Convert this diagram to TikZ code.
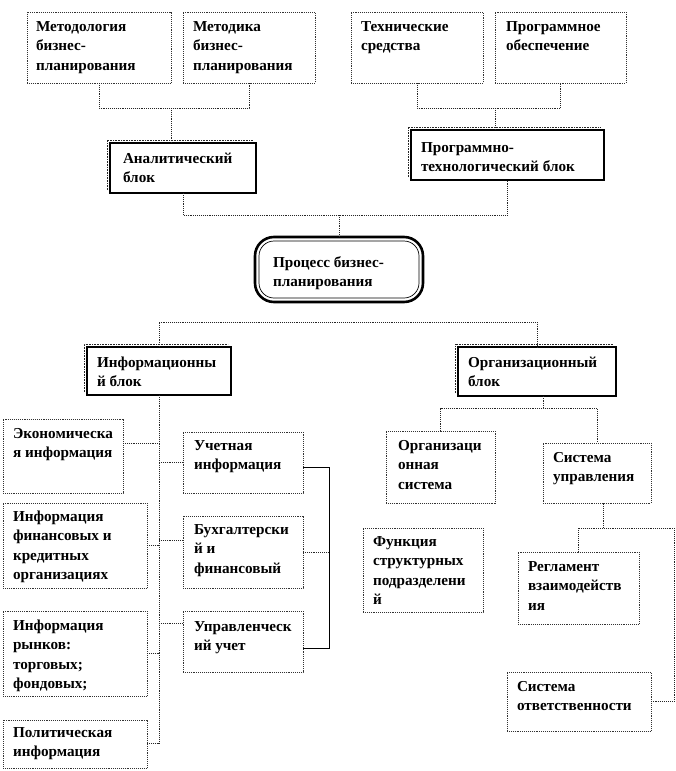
\documentclass[tikz,border=0pt]{standalone}
\usepackage{fontspec}
\setmainfont{Liberation Serif}
\usetikzlibrary{calc}
\tikzset{
  leaf/.style={draw=black!80, densely dotted, line width=0.9pt, inner sep=0pt, outer sep=0pt},
  mainb/.style={draw=black, line width=2pt, inner sep=0pt, outer sep=0pt},
  procb/.style={draw=black, line width=2.6pt, rounded corners=19pt, inner sep=0pt, outer sep=0pt},
  txt/.style={inner sep=0pt, outer sep=0pt, align=left, anchor=north west,
    font=\bfseries\fontsize{15.2}{19.5}\selectfont},
  conn/.style={densely dotted, line width=0.9pt, draw=black!85},
  solidc/.style={line width=0.8pt, draw=black},
  shade/.style={densely dotted, line width=0.6pt, draw=black!85}
}
\newcommand\bx[9]{%
  \node[#2, minimum width={#5-#3}, minimum height={#6-#4}, anchor=north west] (#1) at (#3,#4) {};
  \node[txt] (#1t) at (#3+#7,#4+#8-11) {\rule{0pt}{11pt}#9};
}
\begin{document}
\begin{tikzpicture}[x=1pt,y=-1pt]
\fill[white] (0,0) rectangle (676,771);
\useasboundingbox (0,0) rectangle (676,771);

% top row
\bx{met}{leaf}{27}{12}{171}{83}{9}{19}{Методология\\бизнес-\\планирования}
\bx{mtd}{leaf}{183}{12}{315}{83}{10}{19}{Методика\\бизнес-\\планирования}
\bx{tech}{leaf}{351}{12}{483}{83}{10}{19}{Технические\\средства}
\bx{prog}{leaf}{495}{12}{626}{83}{11}{19}{Программное\\обеспечение}

% blocks
\bx{anal}{mainb}{110}{143}{256}{193}{13}{20}{Аналитический\\блок}
\bx{ptb}{mainb}{411}{130}{604}{180}{10}{22}{Программно-\\технологический блок}

% process
\node[procb, minimum width=168, minimum height=65, anchor=north west] (proc) at (255,237) {};
\draw[line width=0.7pt, rounded corners=15pt] ($(proc.north west)+(4,4)$) rectangle ($(proc.south east)+(-4,-4)$);
\node[txt] (proct) at (273,267-11) {\rule{0pt}{11pt}Процесс бизнес-\\планирования};

\bx{info}{mainb}{87}{347}{231}{395}{10}{20}{Информационны\\й блок}
\bx{org}{mainb}{458}{347}{616}{396}{10}{20}{Организационный\\блок}

\foreach \n in {anal,ptb,info,org}{
  \draw[shade] ($(\n.south west)+(-3,-3)$) -- ($(\n.north west)+(-3,-3)$) -- ($(\n.north east)+(-3,-3)$);
}

% information block leaves
\bx{econ}{leaf}{3}{419}{123}{493}{10}{19}{Экономическа\\я информация}
\bx{uch}{leaf}{183}{432}{303}{493}{11}{18}{Учетная\\информация}
\bx{fin}{leaf}{3}{503}{147}{588}{10}{18}{Информация\\финансовых и\\кредитных\\организациях}
\bx{buh}{leaf}{183}{516}{303}{588}{11}{18}{Бухгалтерски\\й и\\финансовый}
\bx{rynk}{leaf}{3}{611}{147}{696}{10}{19}{Информация\\рынков:\\торговых;\\фондовых;}
\bx{upr}{leaf}{183}{611}{303}{672}{11}{20}{Управленческ\\ий учет}
\bx{pol}{leaf}{3}{720}{147}{768}{10}{17}{Политическая\\информация}

% organisational block leaves
\bx{orgs}{leaf}{386}{431}{495}{503}{12}{19}{Организаци\\онная\\система}
\bx{su}{leaf}{543}{443}{651}{503}{10}{19}{Система\\управления}
\bx{func}{leaf}{363}{528}{483}{612}{10}{18}{Функция\\структурных\\подразделени\\й}
\bx{regl}{leaf}{518}{552}{639}{624}{10}{19}{Регламент\\взаимодейств\\ия}
\bx{otv}{leaf}{507}{672}{651}{731}{10}{19}{Система\\ответственности}

% connectors: top
\coordinate (j1) at (171,108);
\draw[conn] (met.south) |- (j1) -| (mtd.south);
\draw[conn] (j1) -- (j1 |- anal.north);
\coordinate (j2) at (495,108);
\draw[conn] (tech.south) |- (j2) -| (prog.south);
\draw[conn] (j2) -- (j2 |- ptb.north);
\coordinate (j3) at (339,215);
\draw[conn] (anal.south) |- (j3) -| (ptb.south);
\draw[conn] (j3) -- (proc.north);
\coordinate (j4) at (339,322);
\draw[conn] (info.north) |- (j4) -| (org.north);

% information spine
\coordinate (sb) at (159,743);
\draw[conn] (info.south) -- (info.south |- sb);
\draw[conn] (econ.east |- 0,443) -- (info.south |- 0,443);
\draw[conn] (fin.east |- 0,545) -- (info.south |- 0,545);
\draw[conn] (rynk.east |- 0,653) -- (info.south |- 0,653);
\draw[conn] (pol.east |- sb) -- (info.south |- sb);
\draw[conn] (info.south |- 0,462) -- (uch.west |- 0,462);
\draw[conn] (info.south |- 0,540) -- (buh.west |- 0,540);
\draw[conn] (info.south |- 0,623) -- (upr.west |- 0,623);
\coordinate (r1) at (329,467);
\coordinate (r2) at (329,648);
\draw[solidc] (uch.east |- r1) -- (r1) -- (r2) -- (upr.east |- r2);
\draw[conn] (buh.east |- 0,552) -- (r1 |- 0,552);

% organisational tree
\coordinate (j5) at (543,408);
\draw[conn] (j5) -- (j5 |- org.south);
\draw[conn] (orgs.north) |- (j5) -| (su.north);
\coordinate (j6) at (603,528);
\draw[conn] (j6) -- (j6 |- su.south);
\coordinate (j7) at (674,528);
\draw[conn] (regl.north) |- (j7) |- (otv.east);
\end{tikzpicture}
\end{document}
